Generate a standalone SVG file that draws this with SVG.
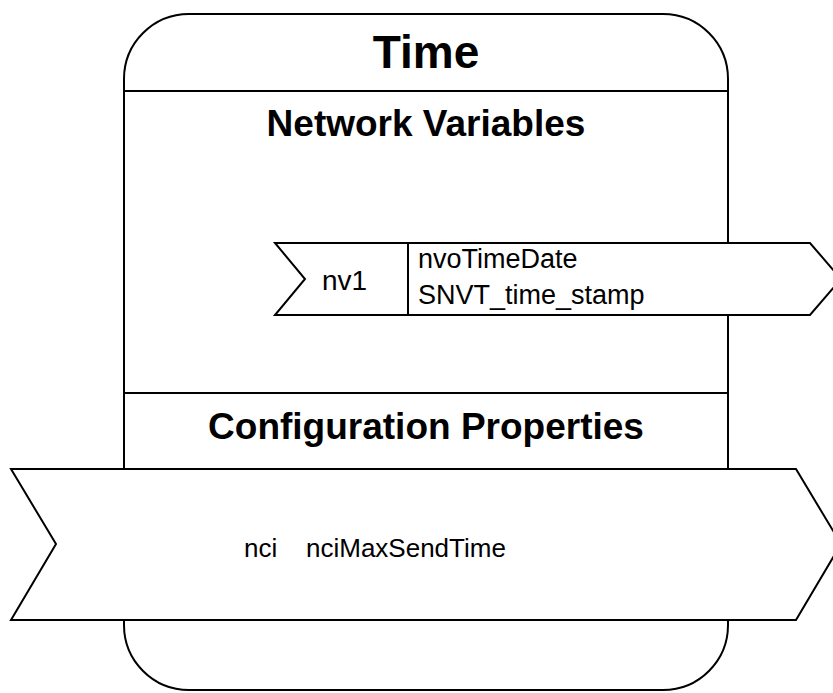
<svg xmlns="http://www.w3.org/2000/svg" width="833" height="693" viewBox="0 0 833 693">
<style>
.ln{fill:#fff;stroke:#000;stroke-width:2}
.t{font-family:"Liberation Sans",Arial,sans-serif;fill:#000}
.h{font-weight:bold;text-anchor:middle}
</style>
<rect width="833" height="693" fill="#fff"/>
<g id="block">
<rect class="ln" x="124" y="14" width="604" height="676" rx="65" ry="65"/>
<line x1="124" y1="91" x2="728" y2="91" stroke="#000" stroke-width="2"/>
<line x1="124" y1="393" x2="728" y2="393" stroke="#000" stroke-width="2"/>
<text class="t h" x="426" y="68" font-size="46">Time</text>
<text class="t h" x="426" y="136" font-size="37">Network Variables</text>
<text class="t h" x="426" y="439" font-size="37">Configuration Properties</text>
</g>
<g id="nv1">
<polygon class="ln" points="275,243 810,243 841,279 810,315 275,315 305,279"/>
<line x1="408" y1="243" x2="408" y2="315" stroke="#000" stroke-width="2"/>
<text class="t" x="322" y="290" font-size="28">nv1</text>
<text class="t" x="418" y="268" font-size="27">nvoTimeDate</text>
<text class="t" x="418" y="304" font-size="27">SNVT_time_stamp</text>
</g>
<g id="nci">
<polygon class="ln" points="11,469 796,469 841,544 796,620 11,620 56,544"/>
<text class="t" x="244" y="557" font-size="26">nci</text>
<text class="t" x="306" y="557" font-size="26">nciMaxSendTime</text>
</g>
<g id="connectors"></g>
</svg>
